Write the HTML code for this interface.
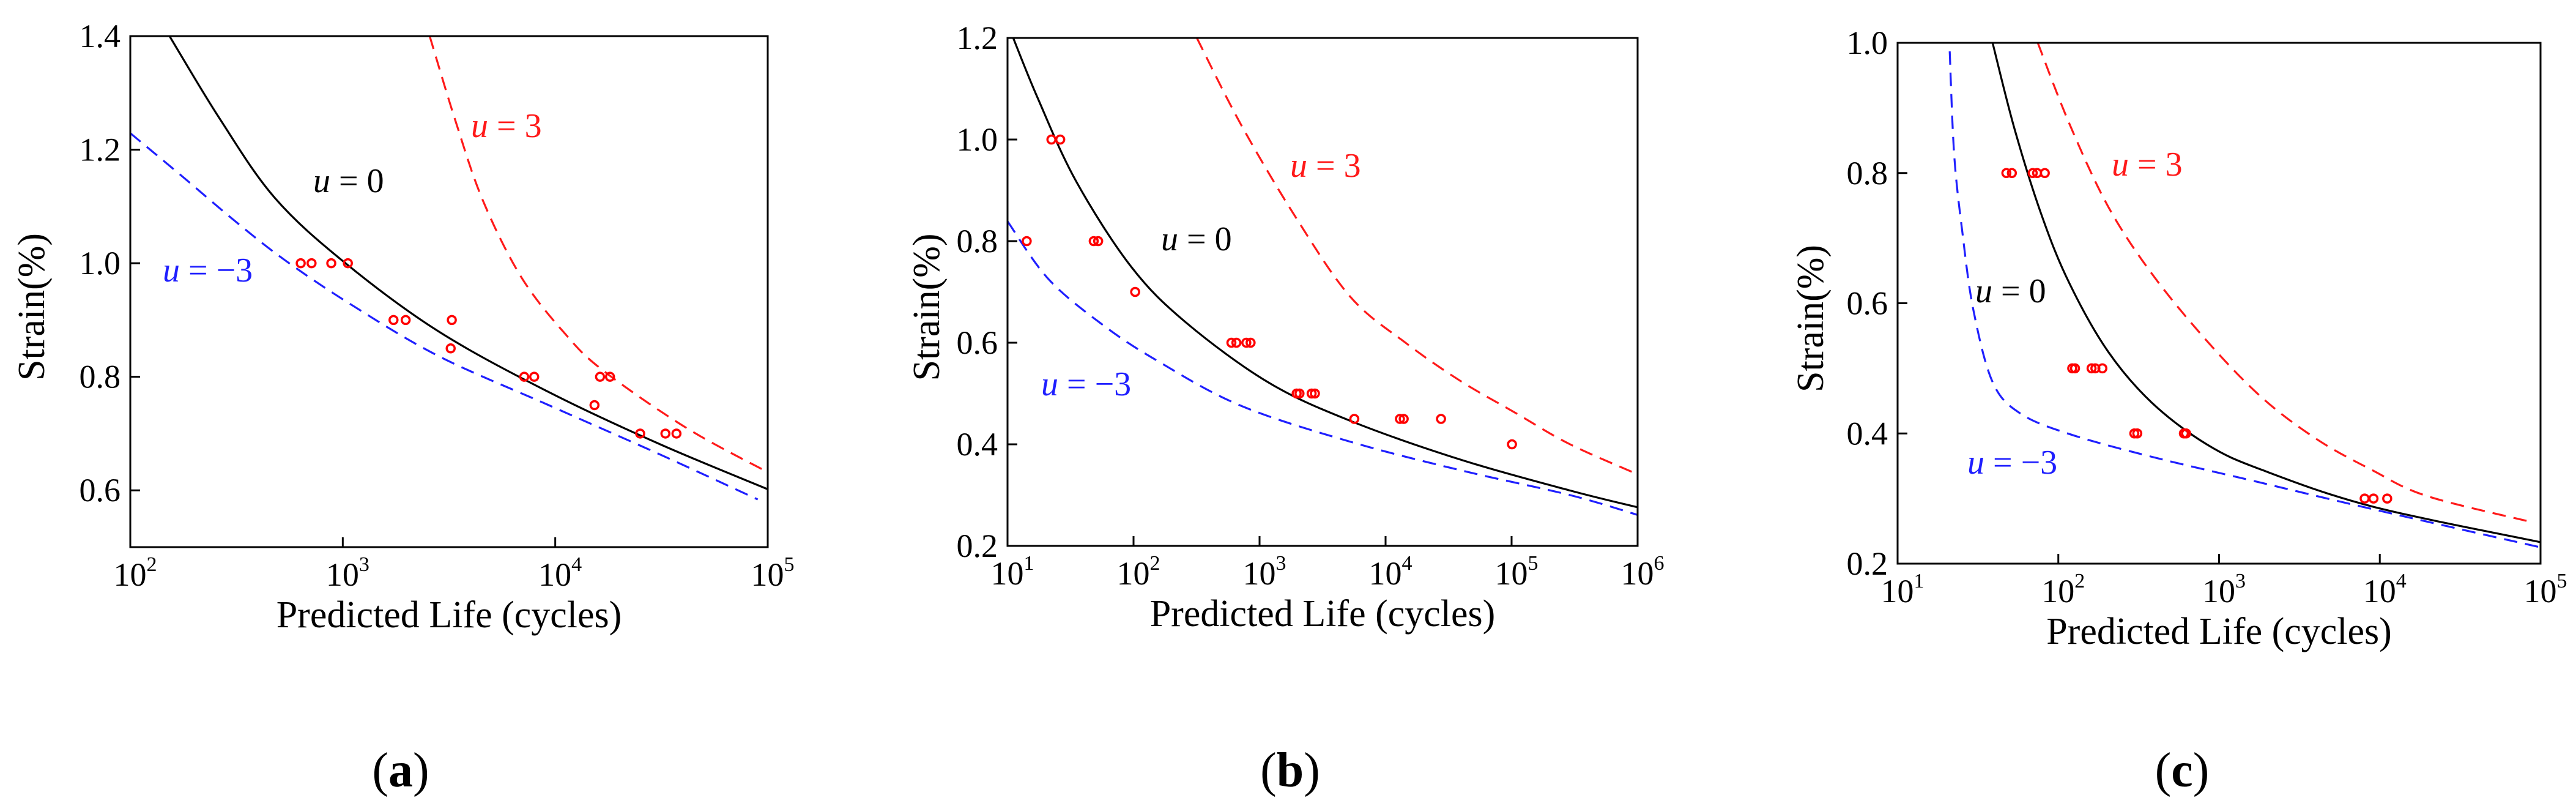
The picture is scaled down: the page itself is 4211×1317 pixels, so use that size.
<!DOCTYPE html>
<html><head><meta charset="utf-8">
<style>
html,body{margin:0;padding:0;background:#fff;}
svg{display:block;}
svg text{font-family:"Liberation Serif","Times New Roman",serif;}
</style></head>
<body>
<svg id="fig" width="4211" height="1317" viewBox="0 0 4211 1317" xmlns="http://www.w3.org/2000/svg"></svg>
<script>
// ---------- Panel (a) data ----------
const aXTickExps = [2, 3, 4, 5];
const aYTicks = [0.6, 0.8, 1.0, 1.2, 1.4];
const aYTickLabels = ["0.6", "0.8", "1.0", "1.2", "1.4"];
const aU0N = [153, 263, 479, 1030, 2820, 9330, 30760, 100000];
const aU0S = [1.4, 1.255, 1.115, 1.0, 0.88, 0.773, 0.682, 0.602];
const aU3N = [2565, 3396, 4571, 6934, 11170, 16940, 41400, 100000];
const aU3S = [1.4, 1.25, 1.11, 0.975, 0.875, 0.81, 0.71, 0.632];
const aUm3N = [100, 173, 314, 536, 1096, 2840, 9330, 30760, 89740];
const aUm3S = [1.229, 1.155, 1.073, 1.005, 0.927, 0.836, 0.75, 0.664, 0.584];
const aPtN = [634, 713, 883, 1057, 1733, 1977, 3260, 3220, 7145, 7960, 16250, 18100, 15300, 25100, 33000, 37200];
const aPtS = [1.0, 1.0, 1.0, 1.0, 0.9, 0.9, 0.9, 0.85, 0.8, 0.8, 0.8, 0.8, 0.75, 0.7, 0.7, 0.7];

// ---------- Panel (b) data ----------
const bXTickExps = [1, 2, 3, 4, 5, 6];
const bYTicks = [0.2, 0.4, 0.6, 0.8, 1.0, 1.2];
const bYTickLabels = ["0.2", "0.4", "0.6", "0.8", "1.0", "1.2"];
const bU0N = [11.1, 17.4, 35, 95.5, 260, 1172, 5272, 39170, 291100, 1000000];
const bU0S = [1.2, 1.081, 0.918, 0.75, 0.64, 0.522, 0.446, 0.37, 0.309, 0.276];
const bU3N = [318, 710, 1936, 5272, 14390, 39170, 106900, 291100, 1000000];
const bU3S = [1.2, 1.03, 0.847, 0.69, 0.6, 0.525, 0.462, 0.4, 0.341];
const bUm3N = [10, 21.2, 57.8, 157.8, 710, 5272, 39170, 291100, 1000000];
const bUm3S = [0.839, 0.725, 0.634, 0.563, 0.476, 0.405, 0.349, 0.3, 0.261];
const bPtN = [22.3, 26.2, 14.2, 48.3, 52.4, 103, 598, 655, 785, 849, 1970, 2075, 2590, 2750, 5650, 13000, 13930, 27540, 100700];
const bPtS = [1.0, 1.0, 0.8, 0.8, 0.8, 0.7, 0.6, 0.6, 0.6, 0.6, 0.5, 0.5, 0.5, 0.5, 0.45, 0.45, 0.45, 0.45, 0.4];

// ---------- Panel (c) data ----------
const cXTickExps = [1, 2, 3, 4, 5];
const cYTicks = [0.2, 0.4, 0.6, 0.8, 1.0];
const cYTickLabels = ["0.2", "0.4", "0.6", "0.8", "1.0"];
const cU0N = [39, 53.5, 79.3, 117.5, 203.7, 382.8, 841, 1849, 8913, 100000];
const cU0S = [1.0, 0.867, 0.733, 0.63, 0.526, 0.447, 0.383, 0.344, 0.288, 0.233];
const cU3N = [74.5, 117.5, 203.7, 382.8, 841, 1849, 4064, 8913, 19590, 87500];
const cU3S = [1.0, 0.875, 0.749, 0.645, 0.542, 0.455, 0.391, 0.344, 0.304, 0.264];
const cUm3N = [21.1, 22.5, 25.3, 29.6, 39, 57.8, 117.5, 382.8, 1849, 8913, 100000];
const cUm3S = [0.987, 0.828, 0.709, 0.59, 0.479, 0.431, 0.399, 0.364, 0.324, 0.284, 0.225];
const cPtN = [47.5, 51.4, 69.3, 73.8, 82.4, 122, 127, 161, 170, 188, 297, 310, 604, 624, 8050, 9140, 11120];
const cPtS = [0.8, 0.8, 0.8, 0.8, 0.8, 0.5, 0.5, 0.5, 0.5, 0.5, 0.4, 0.4, 0.4, 0.4, 0.3, 0.3, 0.3];

const NS = "http://www.w3.org/2000/svg";
const FONT = "'Liberation Serif', 'Times New Roman', serif";
const svg = document.getElementById("fig");
function mk(tag, attrs, parent) {
  const e = document.createElementNS(NS, tag);
  for (const k in attrs) e.setAttribute(k, attrs[k]);
  if (tag === "text") e.style.fontFamily = FONT;
  (parent || svg).appendChild(e);
  return e;
}
function smoothPath(P) {
  let d = "M" + P[0][0].toFixed(1) + "," + P[0][1].toFixed(1);
  for (let i = 0; i < P.length - 1; i++) {
    const p0 = P[Math.max(i - 1, 0)], p1 = P[i], p2 = P[i + 1], p3 = P[Math.min(i + 2, P.length - 1)];
    const c1x = p1[0] + (p2[0] - p0[0]) / 6, c1y = p1[1] + (p2[1] - p0[1]) / 6;
    const c2x = p2[0] - (p3[0] - p1[0]) / 6, c2y = p2[1] - (p3[1] - p1[1]) / 6;
    d += " C" + c1x.toFixed(1) + "," + c1y.toFixed(1) + " " + c2x.toFixed(1) + "," + c2y.toFixed(1) + " " + p2[0].toFixed(1) + "," + p2[1].toFixed(1);
  }
  return d;
}

const panels = [
  {id:"a", L:213, R:1255, T:59, B:894, xmin:2, xmax:5, ymin:0.5, ymax:1.4,
   xt:aXTickExps, yt:aYTicks, ytl:aYTickLabels,
   u0:[aU0N,aU0S], u3:[aU3N,aU3S], um3:[aUm3N,aUm3S], pts:[aPtN,aPtS],
   ylx:52, labX:655,
   ann:{u0:[512,314], u3:[770,224], um3:[266,460]}},
  {id:"b", L:1647, R:2677, T:62, B:892, xmin:1, xmax:6, ymin:0.2, ymax:1.2,
   xt:bXTickExps, yt:bYTicks, ytl:bYTickLabels,
   u0:[bU0N,bU0S], u3:[bU3N,bU3S], um3:[bUm3N,bUm3S], pts:[bPtN,bPtS],
   ylx:1515, labX:2109,
   ann:{u0:[1898,409], u3:[2109,289], um3:[1702,646]}},
  {id:"c", L:3102, R:4153, T:70, B:921, xmin:1, xmax:5, ymin:0.2, ymax:1.0,
   xt:cXTickExps, yt:cYTicks, ytl:cYTickLabels,
   u0:[cU0N,cU0S], u3:[cU3N,cU3S], um3:[cUm3N,cUm3S], pts:[cPtN,cPtS],
   ylx:2960, labX:3567,
   ann:{u0:[3229,494], u3:[3452,287], um3:[3216,774]}}
];

panels.forEach(p => {
  const g = mk("g", {});
  
  
  const xs = n => p.L + (Math.log10(n) - p.xmin) / (p.xmax - p.xmin) * (p.R - p.L);
  const xe = e => p.L + (e - p.xmin) / (p.xmax - p.xmin) * (p.R - p.L);
  const ys = v => p.B - (v - p.ymin) / (p.ymax - p.ymin) * (p.B - p.T);

  const clipId = "clip-" + p.id;
  const cp = mk("clipPath", {id: clipId}, g);
  mk("rect", {x:p.L, y:p.T, width:p.R-p.L, height:p.B-p.T}, cp);

  const curves = [
    [p.um3, "#1f1fff", "22 13", "curve-u-minus-3"],
    [p.u3, "#ff1a1a", "22 13", "curve-u-3"],
    [p.u0, "#000", null, "curve-u-0"]
  ];
  curves.forEach(([d, col, dash, name]) => {
    const P = d[0].map((n, i) => [xs(n), ys(d[1][i])]);
    const attrs = {d: smoothPath(P), fill:"none", stroke:col, "stroke-width":3.2, "clip-path":"url(#"+clipId+")"};
    if (dash) attrs["stroke-dasharray"] = dash;
    const pl = mk("path", attrs, g);
    
    
  });

  p.pts[0].forEach((n, i) => {
    const c = mk("circle", {cx:xs(n), cy:ys(p.pts[1][i]), r:6.5, fill:"none", stroke:"#ff0000", "stroke-width":3.5}, g);
    
    
  });

  const fr = mk("rect", {x:p.L, y:p.T, width:p.R-p.L, height:p.B-p.T, fill:"none", stroke:"#000", "stroke-width":3}, g);
  
  

  p.xt.forEach(e => {
    const x = xe(e);
    mk("line", {x1:x, y1:p.B, x2:x, y2:p.B-16, stroke:"#000", "stroke-width":3}, g);
    const t = mk("text", {x:x+8, y:p.B+63, "font-size":54, "text-anchor":"middle", fill:"#000"}, g);
    
    
    t.appendChild(document.createTextNode("10"));
    const s = mk("tspan", {"font-size":34, dy:-24}, t);
    s.textContent = String(e);
  });
  p.yt.forEach((v, i) => {
    const y = ys(v);
    mk("line", {x1:p.L, y1:y, x2:p.L+16, y2:y, stroke:"#000", "stroke-width":3}, g);
    const t = mk("text", {x:p.L-16, y:y+18, "font-size":54, "text-anchor":"end", fill:"#000"}, g);
    
    
    t.textContent = p.ytl[i];
  });

  const xt = mk("text", {x:(p.L+p.R)/2, y:p.B+131, "font-size":62, "text-anchor":"middle", fill:"#000"}, g);
  
  
  xt.textContent = "Predicted Life (cycles)";
  const yc = (p.T + p.B) / 2 + 25;
  const yt = mk("text", {x:p.ylx, y:yc, "font-size":62, "text-anchor":"middle", fill:"#000", transform:"rotate(-90 "+p.ylx+" "+yc+") translate(0 20)"}, g);
  
  
  yt.textContent = "Strain(%)";

  const ann = [[p.ann.u0, "#000", "0", "label-u-0"], [p.ann.u3, "#ff1a1a", "3", "label-u-3"], [p.ann.um3, "#1f1fff", "\u22123", "label-u-minus-3"]];
  ann.forEach(([pos, col, val, name]) => {
    const t = mk("text", {x:pos[0], y:pos[1], "font-size":56, fill:col}, g);
    
    
    const u = mk("tspan", {"font-style":"italic"}, t);
    u.textContent = "u";
    t.appendChild(document.createTextNode(" = " + val));
  });

  const pl = mk("text", {x:p.labX, y:1285, "font-size":80, "text-anchor":"middle", fill:"#000"}, g);
  
  
  pl.appendChild(document.createTextNode("("));
  const b = mk("tspan", {"font-weight":"bold"}, pl);
  b.textContent = p.id;
  pl.appendChild(document.createTextNode(")"));
});
</script>
</body></html>
